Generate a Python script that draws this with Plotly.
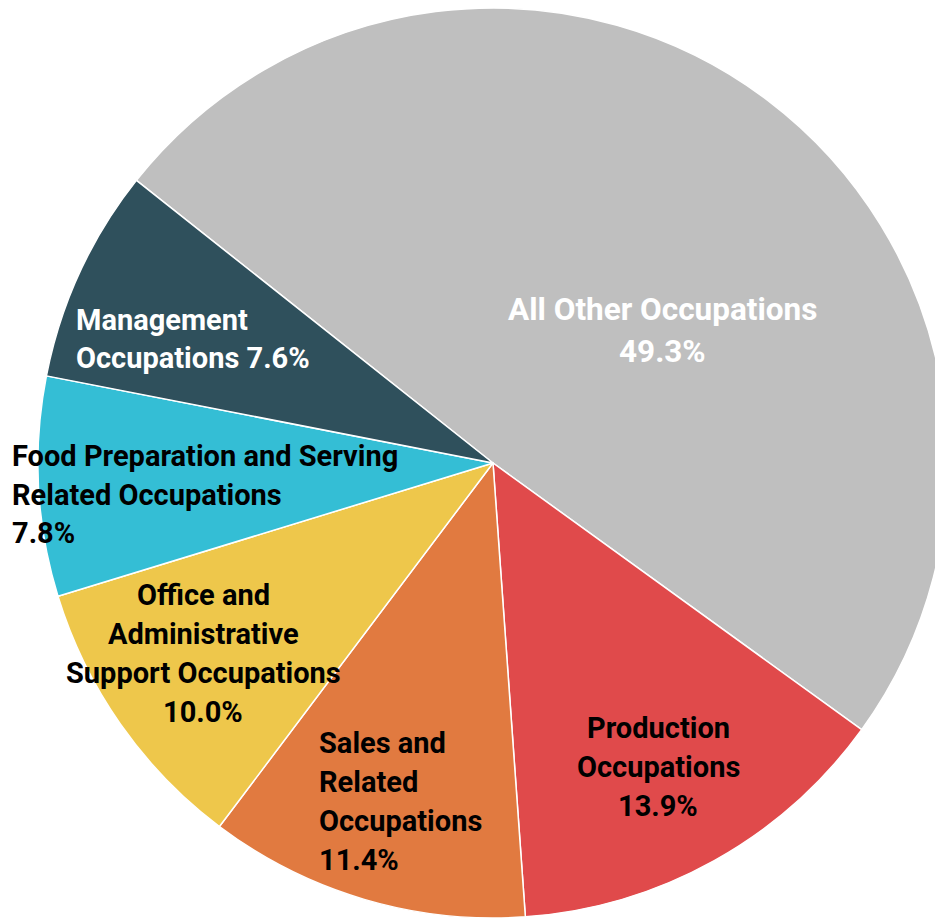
import plotly.graph_objects as go

# ---- data ----
categories = [
    "All Other Occupations",
    "Production Occupations",
    "Sales and Related Occupations",
    "Office and Administrative Support Occupations",
    "Food Preparation and Serving Related Occupations",
    "Management Occupations",
]
shares = [49.3, 13.9, 11.4, 10.0, 7.8, 7.6]
colors = ["#BFBFBF", "#E04A4B", "#E17A40", "#EEC74B", "#34BED5", "#2F505C"]

label_lines = [
    ["All Other Occupations", "49.3%"],
    ["Production", "Occupations", "13.9%"],
    ["Sales and", "Related", "Occupations", "11.4%"],
    ["Office and", "Administrative", "Support Occupations", "10.0%"],
    ["Food Preparation and Serving", "Related Occupations", "7.8%"],
    ["Management", "Occupations 7.6%"],
]
label_colors = ["white", "black", "black", "black", "black", "white"]
# anchor point (pixel) of first line, alignment, font size, line gap for each label
label_anchor = [(662, 310, "center", 31.5, 41), (658, 728, "center", 29, 39),
                (317, 743, "left", 29, 39), (203, 595, "center", 29, 39),
                (10, 456, "left", 29, 38.5), (74, 320, "left", 29, 38)]

W, H = 950, 919
ML, MR, MT, MB = 38, 2, 8, 1
PW, PH = W - ML - MR, H - MT - MB

FONT = "Roboto"


def to_paper(x, y):
    return (x - ML) / PW, 1 - (y - MT) / PH


fig = go.Figure(
    go.Pie(
        labels=categories,
        values=shares,
        sort=False,
        direction="clockwise",
        rotation=-51.6,
        marker=dict(colors=colors, line=dict(color="white", width=1.5)),
        textinfo="none",
        hoverinfo="skip",
        showlegend=False,
        domain=dict(x=[0, 1], y=[0, 1]),
    )
)

annotations = []
for lines, col, (ax, ay, align, fs, gap) in zip(label_lines, label_colors, label_anchor):
    for i, line in enumerate(lines):
        px, py = to_paper(ax, ay + i * gap)
        annotations.append(dict(
            x=px, y=py, xref="paper", yref="paper",
            text="<b>%s</b>" % line, showarrow=False,
            xanchor="left" if align == "left" else "center",
            yanchor="middle",
            font=dict(family=FONT, size=fs, color=col),
        ))

fig.update_layout(
    width=W, height=H,
    margin=dict(l=ML, r=MR, t=MT, b=MB, pad=0),
    paper_bgcolor="white",
    plot_bgcolor="white",
    annotations=annotations,
)

fig.write_html(
    "out.html",
    config={"displayModeBar": False},
    post_script="document.body.style.margin='0';document.body.style.overflow='hidden';",
)
